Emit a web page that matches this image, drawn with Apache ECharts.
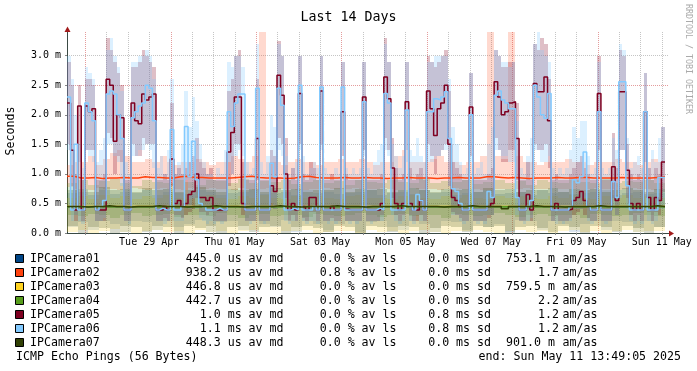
<!DOCTYPE html>
<html><head><meta charset="utf-8">
<script src="https://cdn.jsdelivr.net/npm/echarts@6/dist/echarts.min.js"></script>
<style>html,body{margin:0;padding:0;background:#fff}#c{width:697px;height:371px}</style>
</head><body><div id="c"></div>
<script>
// ---------------- data ----------------
const hosts = ['IPCamera01','IPCamera02','IPCamera03','IPCamera04','IPCamera05','IPCamera06','IPCamera07'];
const hostColors = ['#004586','#ff420e','#ffd320','#579d1c','#7e0021','#83caff','#314004'];
const legendMd = ['445.0 us av md','938.2 us av md','446.8 us av md','442.7 us av md','  1.0 ms av md','  1.1 ms av md','448.3 us av md'];
const legendLs = ['0.0 % av ls','0.8 % av ls','0.0 % av ls','0.0 % av ls','0.0 % av ls','0.0 % av ls','0.0 % av ls'];
const legendSd = ['0.0 ms sd','0.0 ms sd','0.0 ms sd','0.0 ms sd','0.8 ms sd','0.8 ms sd','0.0 ms sd'];
const legendAmVal = ['753.1 m','1.7','759.5 m','2.2','1.2','1.2','901.0 m'];
const yTickValues = [0, 0.5, 1.0, 1.5, 2.0, 2.5, 3.0];
const xTickLabels = ['Tue 29 Apr','Thu 01 May','Sat 03 May','Mon 05 May','Wed 07 May','Fri 09 May','Sun 11 May'];
const xTickDates = ['2025-04-29T12:00:00Z','2025-05-01T12:00:00Z','2025-05-03T12:00:00Z','2025-05-05T12:00:00Z','2025-05-07T12:00:00Z','2025-05-09T12:00:00Z','2025-05-11T12:00:00Z'];
const startDate = '2025-04-27T13:49:05Z';
const firstGridDate = '2025-04-28T00:00:00Z';
const spanHours = 336;

// IPCamera06 median, 2 h steps
const med6 = [2.3,0.39,1.5,0.39,0.39,2.2,2.05,1.9,0.39,0.45,
 0.55,2.35,2.4,2.35,2.0,1.6,0.39,0.39,1.95,2.05,
 2.15,2.2,2.5,2.45,1.9,0.39,0.42,0.39,0.39,1.75,
 0.39,0.39,0.45,1.8,0.95,1.55,0.9,0.5,0.45,0.39,
 0.39,0.39,0.42,0.39,0.39,2.05,1.8,2.2,2.35,2.35,
 0.39,0.39,0.39,2.45,0.39,0.39,0.39,1.18,0.95,2.45,
 2.16,0.39,0.39,0.42,0.39,2.5,0.39,0.39,0.39,0.45,
 0.39,2.47,0.39,0.39,0.39,0.39,0.39,2.47,0.39,0.39,
 0.39,0.39,0.39,2.22,0.39,0.39,0.39,0.42,0.39,2.36,
 2.2,0.39,0.39,0.39,0.39,2.08,0.45,0.39,0.65,0.55,
 0.39,2.05,2.05,2.27,2.25,2.3,2.39,1.6,0.75,0.7,
 0.5,0.39,0.39,2.0,0.39,0.39,0.39,0.39,0.7,0.6,
 2.33,2.4,2.25,2.2,2.1,2.1,0.6,0.39,0.39,0.45,
 0.55,2.5,2.3,2.0,1.94,2.36,0.39,0.39,0.39,0.39,
 0.39,0.45,0.9,0.85,0.95,1.37,0.45,0.39,0.39,2.05,
 0.39,0.39,0.39,0.87,0.6,2.56,2.56,0.8,0.39,0.39,
 0.39,0.39,2.05,0.39,0.39,0.39,0.94,0.94];
// IPCamera05 median, 2 h steps
const med5 = [2.2,1.4,0.39,2.15,0.39,2.15,2.05,2.1,0.39,0.39,
 0.39,2.6,2.5,1.55,2.0,1.95,0.39,0.39,2.2,1.9,
 1.85,2.35,2.25,2.3,2.35,0.39,0.39,0.45,0.39,1.25,
 0.5,0.55,0.45,0.5,0.65,0.7,1.0,0.6,0.6,0.55,
 0.6,0.39,0.39,0.39,0.39,1.37,1.7,2.3,2.3,0.5,
 0.39,0.39,0.39,1.6,0.39,0.39,0.39,0.8,0.7,2.67,
 2.33,1.0,0.39,0.5,0.39,2.36,0.45,0.39,0.6,0.6,
 0.39,2.4,0.39,0.39,0.45,0.39,0.39,2.05,0.4,0.39,
 0.39,0.39,0.39,2.3,0.39,0.39,0.39,0.39,0.5,2.64,
 2.27,1.1,0.5,0.39,0.5,2.22,0.5,0.39,0.39,0.55,
 0.39,2.4,2.1,1.65,2.1,2.2,2.5,1.5,0.6,0.55,
 0.45,0.39,0.39,2.13,0.39,0.39,0.39,0.39,0.45,0.5,
 2.56,2.3,2.0,2.05,2.2,2.22,1.6,0.39,0.39,0.65,
 0.39,2.53,2.39,2.39,2.64,1.9,0.39,0.5,0.39,0.39,
 0.39,0.4,0.55,0.6,0.7,0.55,0.45,0.39,0.39,2.36,
 0.39,0.39,0.39,1.12,0.55,2.39,2.39,1.06,0.5,0.39,
 0.5,0.39,2.05,0.6,0.39,0.6,0.55,1.2];
// smoke ranges, 2 h steps
const smoke6Hi = [3.0,2.6,2.0,1.5,1.1,2.8,2.7,2.6,1.2,1.4,
 1.6,3.1,3.3,3.0,2.8,2.4,1.2,1.0,2.9,2.9,
 3.0,3.0,3.1,3.0,2.6,1.1,1.3,1.0,1.4,2.6,
 1.0,1.2,1.5,2.4,1.8,2.3,1.9,1.5,1.2,1.0,
 1.0,0.9,1.1,1.0,1.4,2.9,2.8,3.0,3.0,2.8,
 1.2,1.0,1.1,3.2,1.2,1.0,1.3,2.0,1.8,3.2,
 3.0,1.3,1.0,1.1,1.2,3.0,1.3,1.0,1.1,1.2,
 1.1,3.0,1.1,1.0,0.9,1.1,1.0,2.9,1.1,1.0,
 1.1,1.0,1.1,2.9,1.1,1.0,1.2,1.4,1.5,3.2,
 2.9,1.5,1.3,1.1,1.3,2.9,1.4,1.3,1.6,1.3,
 1.2,2.9,2.9,3.0,3.0,3.0,3.0,2.6,1.8,1.5,
 1.2,1.0,1.1,2.7,1.0,1.1,1.2,1.0,1.5,1.8,
 3.1,3.0,2.9,2.9,2.8,2.9,1.9,1.1,1.0,1.3,
 1.6,3.2,3.4,3.1,3.0,2.9,1.1,1.0,1.1,1.0,
 1.1,1.4,1.8,1.6,1.9,1.9,1.3,1.0,1.1,2.9,
 1.1,1.0,1.1,1.6,1.4,3.2,3.1,1.6,1.1,1.2,
 1.3,1.1,2.7,1.1,1.4,1.2,1.6,1.8];
const smoke6Lo = [1.4,0.2,0.3,0.2,0.15,1.4,1.3,1.2,0.2,0.2,
 0.25,1.5,1.5,1.3,1.2,0.8,0.2,0.15,1.3,1.3,
 1.4,1.4,1.5,1.4,1.1,0.2,0.2,0.15,0.2,0.9,
 0.2,0.2,0.2,0.9,0.4,0.6,0.4,0.25,0.2,0.15,
 0.2,0.15,0.2,0.15,0.2,1.2,1.0,1.3,1.4,1.3,
 0.2,0.15,0.2,1.4,0.2,0.15,0.2,0.5,0.4,1.4,
 1.3,0.2,0.15,0.2,0.2,1.4,0.2,0.15,0.2,0.2,
 0.15,1.4,0.2,0.15,0.2,0.15,0.2,1.4,0.2,0.15,
 0.2,0.15,0.2,1.3,0.2,0.15,0.2,0.2,0.2,1.4,
 1.3,0.3,0.2,0.15,0.2,1.2,0.2,0.15,0.3,0.2,
 0.2,1.2,1.2,1.3,1.3,1.4,1.4,0.8,0.3,0.3,
 0.2,0.15,0.2,1.2,0.2,0.15,0.2,0.15,0.3,0.3,
 1.4,1.4,1.3,1.3,1.2,1.2,0.3,0.2,0.15,0.2,
 0.25,1.4,1.4,1.2,1.2,1.3,0.2,0.15,0.2,0.15,
 0.2,0.2,0.4,0.4,0.4,0.6,0.2,0.15,0.2,1.2,
 0.2,0.15,0.2,0.4,0.3,1.4,1.4,0.4,0.2,0.15,
 0.2,0.15,1.2,0.2,0.15,0.2,0.4,0.4];
const smoke5Hi = [2.9,2.5,1.0,2.5,0.9,2.6,2.6,2.5,0.9,0.9,
 1.0,3.3,3.1,2.9,2.7,2.5,0.9,0.9,2.8,2.8,
 2.9,3.1,3.0,2.9,2.8,0.9,0.9,1.0,0.9,2.2,
 1.0,1.1,1.0,1.1,1.2,1.3,1.6,1.2,1.1,1.0,
 1.1,0.9,0.9,0.9,0.9,2.4,2.6,3.0,3.1,1.2,
 0.9,0.9,0.9,2.6,0.9,0.9,0.9,1.4,1.3,3.25,
 3.0,1.6,0.9,1.1,0.9,3.0,1.0,0.9,1.2,1.1,
 0.9,3.0,0.9,0.9,1.0,0.9,0.9,2.9,1.0,0.9,
 0.9,0.9,0.9,2.9,0.9,0.9,0.9,0.9,1.0,3.3,
 2.9,1.6,1.1,0.9,1.0,2.9,1.1,0.9,1.0,1.1,
 0.9,3.0,2.9,2.8,2.9,3.0,3.1,2.4,1.2,1.1,
 1.0,0.9,0.9,2.7,0.9,0.9,0.9,0.9,1.0,1.1,
 3.1,3.0,2.8,2.8,2.9,2.9,2.2,0.9,0.9,1.2,
 0.9,3.2,3.1,3.3,3.2,2.6,0.9,1.0,0.9,0.9,
 0.9,1.0,1.1,1.2,1.3,1.1,1.0,0.9,0.9,3.0,
 0.9,0.9,0.9,1.7,1.1,3.1,3.0,1.5,1.0,0.9,
 1.0,0.9,2.7,1.1,0.9,1.1,1.0,1.8];
const smoke5Lo = [1.5,0.8,0.2,1.2,0.2,1.4,1.4,1.4,0.2,0.2,
 0.2,1.7,1.6,1.0,1.3,1.2,0.2,0.2,1.5,1.3,
 1.3,1.6,1.5,1.5,1.5,0.2,0.2,0.25,0.2,0.8,
 0.3,0.3,0.25,0.3,0.35,0.4,0.6,0.35,0.35,0.3,
 0.35,0.2,0.2,0.2,0.2,0.8,1.0,1.5,1.5,0.3,
 0.2,0.2,0.2,0.9,0.2,0.2,0.2,0.45,0.4,1.6,
 1.5,0.6,0.2,0.3,0.2,1.5,0.25,0.2,0.35,0.35,
 0.2,1.5,0.2,0.2,0.25,0.2,0.2,1.3,0.2,0.2,
 0.2,0.2,0.2,1.4,0.2,0.2,0.2,0.2,0.3,1.6,
 1.4,0.6,0.3,0.2,0.3,1.4,0.3,0.2,0.2,0.3,
 0.2,1.5,1.3,1.0,1.3,1.4,1.5,0.8,0.35,0.3,
 0.25,0.2,0.2,1.3,0.2,0.2,0.2,0.2,0.25,0.3,
 1.6,1.4,1.2,1.2,1.4,1.4,0.9,0.2,0.2,0.4,
 0.2,1.5,1.4,1.4,1.5,1.1,0.2,0.3,0.2,0.2,
 0.2,0.25,0.3,0.35,0.4,0.3,0.25,0.2,0.2,1.4,
 0.2,0.2,0.2,0.6,0.3,1.4,1.4,0.6,0.3,0.2,
 0.3,0.2,1.2,0.35,0.2,0.35,0.3,0.7];
// IPCamera02, 4 h steps
const med2 = [0.96,0.93,0.93,0.94,0.92,0.93,0.93,0.94,0.93,0.93,
 0.95,0.94,0.94,0.93,0.93,0.95,0.96,0.94,0.94,0.93,
 0.93,0.93,0.93,0.94,0.95,0.96,0.94,0.93,0.93,0.93,
 0.92,0.93,0.95,0.96,0.94,0.93,0.93,0.93,0.94,0.93,
 0.93,0.94,0.93,0.93,0.92,0.93,0.93,0.94,0.93,0.93,
 0.93,0.92,0.93,0.93,0.94,0.93,0.93,0.93,0.95,0.95,
 0.94,0.93,0.94,0.93,0.92,0.93,0.93,0.93,0.94,0.93,
 0.93,0.94,0.94,0.93,0.93,0.93,0.93,0.94,0.93,0.93,
 0.93,0.93,0.94,0.95];
const smoke2Hi = [1.15,1.2,1.2,1.3,1.15,1.25,1.35,1.4,1.3,1.2,
 1.2,1.25,1.2,1.3,1.2,1.15,1.2,1.2,1.25,1.2,
 1.15,1.2,1.2,1.3,1.25,1.2,1.3,3.4,1.2,1.2,
 1.15,1.2,1.25,1.2,1.2,1.15,1.2,1.2,1.25,1.2,
 1.2,1.25,1.2,1.15,1.2,1.2,1.3,1.4,1.2,1.2,
 1.2,1.25,1.3,1.2,1.2,1.15,1.2,1.2,1.3,3.4,
 1.3,1.25,3.4,1.3,1.2,1.2,1.15,1.2,1.2,1.2,
 1.25,1.2,1.2,1.15,1.2,1.2,1.2,1.25,1.2,1.2,
 1.15,1.2,1.25,1.2];
const smoke2Lo = [0.78,0.75,0.74,0.72,0.76,0.75,0.74,0.72,0.75,0.76,
 0.74,0.73,0.75,0.76,0.75,0.74,0.72,0.76,0.75,0.74,
 0.76,0.75,0.74,0.73,0.76,0.75,0.72,0.75,0.76,0.75,
 0.74,0.75,0.73,0.72,0.74,0.75,0.76,0.75,0.74,0.75,
 0.76,0.74,0.74,0.75,0.76,0.75,0.73,0.72,0.76,0.75,
 0.75,0.74,0.73,0.75,0.76,0.75,0.74,0.75,0.72,0.72,
 0.74,0.75,0.74,0.75,0.76,0.75,0.74,0.75,0.76,0.75,
 0.74,0.75,0.73,0.75,0.76,0.75,0.74,0.73,0.75,0.76,
 0.75,0.74,0.73,0.74];
// IPCamera07, 4 h steps
const med7 = [0.45,0.45,0.44,0.45,0.45,0.46,0.45,0.45,0.44,0.45,
 0.45,0.45,0.46,0.45,0.45,0.45,0.44,0.45,0.45,0.45,
 0.46,0.45,0.45,0.45,0.44,0.45,0.45,0.45,0.45,0.46,
 0.45,0.45,0.44,0.45,0.45,0.45,0.45,0.46,0.45,0.45,
 0.45,0.44,0.45,0.45,0.45,0.45,0.46,0.45,0.45,0.45,
 0.45,0.45,0.44,0.45,0.45,0.45,0.46,0.45,0.45,0.45,
 0.45,0.41,0.45,0.45,0.45,0.46,0.45,0.45,0.45,0.44,
 0.45,0.45,0.45,0.45,0.46,0.45,0.45,0.45,0.45,0.45,
 0.45,0.45,0.46,0.45];
// IPCamera01/03/04, 12 h steps
const med1 = [0.445,0.445,0.445,0.445,0.445,0.445,0.445,0.445,0.445,0.445,0.445,0.445,0.445,0.445,
 0.445,0.445,0.445,0.445,0.445,0.445,0.445,0.445,0.445,0.445,0.445,0.445,0.445,0.445];
const med3 = [0.447,0.447,0.447,0.447,0.447,0.447,0.447,0.447,0.447,0.447,0.447,0.447,0.447,0.447,
 0.447,0.447,0.447,0.447,0.447,0.447,0.447,0.447,0.447,0.447,0.447,0.447,0.447,0.447];
const med4 = [0.443,0.443,0.443,0.443,0.443,0.443,0.443,0.443,0.443,0.443,0.443,0.443,0.443,0.443,
 0.443,0.443,0.443,0.443,0.443,0.443,0.443,0.443,0.443,0.443,0.443,0.443,0.443,0.443];
// low hosts smoke, 6 h steps
const smoke1Lo = [0.1,0.18,0.05,0.2,0.15,0.02,0.2,0.18,0.05,0.2,0.1,0.15,0.22,0.02,0.18,0.2,0.05,0.2,0.15,0.1,
 0.22,0.02,0.2,0.15,0.05,0.15,0.2,0.02,0.18,0.2,0.1,0.05,0.2,0.15,0.02,0.2,0.18,0.05,0.2,0.1,
 0.15,0.02,0.22,0.2,0.05,0.2,0.15,0.02,0.15,0.2,0.05,0.2,0.18,0.02,0.2,0.1];
const smoke1Hi = [0.68,0.7,0.65,0.72,0.66,0.7,0.68,0.72,0.65,0.7,0.68,0.66,0.72,0.7,0.65,0.68,0.7,0.72,0.66,0.68,
 0.7,0.65,0.72,0.68,0.7,0.66,0.68,0.7,0.72,0.65,0.68,0.7,0.66,0.72,0.68,0.7,0.65,0.68,0.7,0.72,
 0.66,0.68,0.7,0.65,0.72,0.68,0.7,0.66,0.68,0.7,0.72,0.65,0.68,0.7,0.66,0.68];
const smoke3Lo = [0.02,0.05,0.0,0.03,0.06,0.02,0.0,0.04,0.05,0.02,0.03,0.0,0.05,0.02,0.04,0.0,0.03,0.05,0.02,0.0,
 0.04,0.03,0.05,0.0,0.02,0.04,0.03,0.0,0.05,0.02,0.03,0.0,0.04,0.05,0.02,0.0,0.03,0.04,0.05,0.02,
 0.0,0.03,0.05,0.02,0.04,0.0,0.03,0.05,0.02,0.04,0.0,0.03,0.05,0.02,0.04,0.03];
const smoke3Hi = [0.6,0.62,0.58,0.65,0.6,0.63,0.58,0.62,0.6,0.65,0.6,0.58,0.62,0.64,0.6,0.58,0.62,0.6,0.65,0.6,
 0.58,0.62,0.6,0.63,0.6,0.58,0.62,0.65,0.6,0.6,0.58,0.62,0.64,0.6,0.58,0.62,0.6,0.65,0.6,0.58,
 0.62,0.6,0.63,0.6,0.58,0.62,0.6,0.65,0.6,0.58,0.62,0.6,0.64,0.6,0.62,0.6];
const smoke4Lo = [0.3,0.28,0.32,0.3,0.25,0.3,0.33,0.28,0.3,0.32,0.27,0.3,0.3,0.28,0.33,0.3,0.26,0.3,0.32,0.28,
 0.3,0.3,0.27,0.32,0.3,0.28,0.3,0.33,0.3,0.27,0.3,0.32,0.28,0.3,0.3,0.26,0.32,0.3,0.28,0.3,
 0.33,0.3,0.27,0.3,0.32,0.28,0.3,0.3,0.26,0.32,0.3,0.28,0.3,0.33,0.3,0.28];
const smoke4Hi = [0.85,0.9,0.82,0.88,0.92,0.85,0.8,0.9,0.87,0.84,0.9,0.86,0.82,0.9,0.88,0.85,0.92,0.84,0.88,0.86,
 0.9,0.83,0.87,0.9,0.85,0.88,0.82,0.9,0.86,0.84,0.9,0.87,0.85,0.92,0.84,0.88,0.86,0.9,0.83,0.87,
 0.9,0.85,0.88,0.82,0.9,0.86,0.84,0.9,0.87,0.85,0.92,0.84,0.88,0.86,0.9,0.85];
const smoke7Lo = [0.12,0.0,0.1,0.08,0.0,0.12,0.1,0.02,0.12,0.1,0.0,0.12,0.08,0.12,0.0,0.1,0.12,0.02,0.1,0.12,
 0.0,0.1,0.12,0.08,0.02,0.12,0.1,0.0,0.12,0.1,0.02,0.12,0.1,0.0,0.08,0.12,0.1,0.02,0.12,0.1,
 0.12,0.0,0.1,0.12,0.08,0.02,0.12,0.1,0.0,0.12,0.1,0.02,0.12,0.08,0.0,0.1];
const smoke7Hi = [0.72,0.75,0.7,0.78,0.72,0.74,0.7,0.76,0.72,0.75,0.7,0.73,0.77,0.72,0.7,0.75,0.72,0.74,0.7,0.76,
 0.72,0.75,0.7,0.73,0.72,0.76,0.7,0.74,0.72,0.75,0.7,0.72,0.76,0.73,0.7,0.75,0.72,0.74,0.7,0.76,
 0.72,0.75,0.7,0.73,0.72,0.76,0.7,0.74,0.72,0.75,0.7,0.72,0.76,0.73,0.7,0.75];

// ---------------- layout / style ----------------
const FONT = 'DejaVu Sans Mono';
const LEG_FONT = '11.6px "' + FONT + '"';
const Y_MAX = 3.4;
const X_PAD = 2.25;  // axis extends a little beyond the last sample
const GRID_MINOR = 'rgba(150,150,150,0.55)';
const GRID_MAJOR = 'rgba(210,90,90,0.6)';
const AXIS_COLOR = '#3a4a44';
const ARROW_COLOR = '#a11a1a';
const smokeAlpha = [0.15, 0.2, 0.22, 0.22, 0.25, 0.28, 0.2];

const H = ms => (new Date(ms).getTime() - new Date(startDate).getTime()) / 3600000;
const labelHours = xTickDates.map(H);
const firstGridH = H(firstGridDate);
const gridLines = [];
for (let k = 0; firstGridH + 12 * k < spanHours + X_PAD; k++) gridLines.push([firstGridH + 12 * k, k % 4 === 0 ? 1 : 0]);
const minorTickHours = gridLines.map(g => g[0]);

function hexA(hex, a) {
  const n = parseInt(hex.slice(1), 16);
  return 'rgba(' + (n >> 16) + ',' + ((n >> 8) & 255) + ',' + (n & 255) + ',' + a + ')';
}
function bandSeries(lo, hi, stepH, color, z) {
  return {
    type: 'custom', silent: true, z: z, clip: true,
    data: lo.map((l, i) => [i * stepH, (i + 1) * stepH, l, hi[i]]),
    encode: {x: [0, 1], y: [2, 3]},
    renderItem: (params, api) => {
      const a = api.coord([api.value(0), api.value(2)]);
      const b = api.coord([api.value(1), api.value(3)]);
      const x0 = Math.round(a[0]), x1 = Math.round(b[0]);
      const yb = Math.round(a[1]), yt = Math.round(b[1]);
      return {type: 'rect', shape: {x: x0, y: yt, width: x1 - x0, height: yb - yt}, style: {fill: color}};
    }
  };
}
function medSeries(vals, stepH, color, z, w) {
  const d = vals.map((v, i) => [i * stepH, v]);
  d.push([vals.length * stepH, vals[vals.length - 1]]);
  return {type: 'line', step: 'end', symbol: 'none', silent: true, z: z, data: d,
    lineStyle: {color: color, width: w}, emphasis: {disabled: true}, animation: false};
}

const smokeDefs = [
  [smoke1Lo, smoke1Hi, 6], [smoke2Lo, smoke2Hi, 4], [smoke3Lo, smoke3Hi, 6], [smoke4Lo, smoke4Hi, 6],
  [smoke5Lo, smoke5Hi, 2], [smoke6Lo, smoke6Hi, 2], [smoke7Lo, smoke7Hi, 6]
];
const medDefs = [[med1, 12], [med2, 4], [med3, 12], [med4, 12], [med5, 2], [med6, 2], [med7, 4]];

const series = [];
series.push({
  type: 'custom', silent: true, z: 1, data: gridLines, encode: {x: 0},
  renderItem: (params, api) => {
    const t = api.coord([api.value(0), Y_MAX]);
    const b = api.coord([api.value(0), 0]);
    const x = Math.round(t[0]) + 0.5;
    return {type: 'line', shape: {x1: x, y1: t[1], x2: x, y2: b[1]},
      style: {stroke: api.value(1) ? GRID_MAJOR : GRID_MINOR, lineWidth: 1, lineDash: [1, 1]}};
  }
});
smokeDefs.forEach((s, i) => series.push(bandSeries(s[0], s[1], s[2], hexA(hostColors[i], smokeAlpha[i]), 2)));
medDefs.forEach((m, i) => series.push(medSeries(m[0], m[1], hostColors[i], 3, 1.5)));

// legend graphics
const graphic = [];
const LEG_Y0 = 259, LEG_DY = 14;
hosts.forEach((h, i) => {
  const y = LEG_Y0 + i * LEG_DY;
  graphic.push({type: 'rect', shape: {x: 15.5, y: y - 4.5, width: 8, height: 8},
    style: {fill: hostColors[i], stroke: '#000', lineWidth: 1}});
  const txt = (t, x, align) => graphic.push({type: 'text', x: x, y: y,
    style: {text: t, font: LEG_FONT, fill: '#000', align: align, verticalAlign: 'middle'}});
  txt(h, 30, 'left');
  txt(legendMd[i], 283.5, 'right');
  txt(legendLs[i], 396.5, 'right');
  txt(legendSd[i], 491, 'right');
  if (legendAmVal[i].indexOf(' m') > 0) txt(legendAmVal[i], 506, 'left');
  else txt(legendAmVal[i], 559, 'right');
  txt('am/as', 562.5, 'left');
});
graphic.push({type: 'text', x: 16, y: 357, style: {text: 'ICMP Echo Pings (56 Bytes)', font: LEG_FONT, fill: '#000', verticalAlign: 'middle'}});
graphic.push({type: 'text', x: 681, y: 357, style: {text: 'end: Sun May 11 13:49:05 2025', font: LEG_FONT, fill: '#000', align: 'right', verticalAlign: 'middle'}});
graphic.push({type: 'text', x: 11, y: 131, rotation: Math.PI / 2, style: {text: 'Seconds', font: LEG_FONT, fill: '#000', align: 'center', verticalAlign: 'middle'}});
graphic.push({type: 'text', x: 688, y: 59, rotation: -Math.PI / 2, style: {text: 'RRDTOOL / TOBI OETIKER', font: '8.3px "' + FONT + '"', fill: '#aaa', align: 'center', verticalAlign: 'middle'}});

const option = {
  animation: false,
  backgroundColor: '#fff',
  title: {text: 'Last 14 Days', left: 'center', top: 6,
    textStyle: {fontFamily: FONT, fontSize: 13.3, fontWeight: 'normal', color: '#000'}},
  grid: {left: 67, top: 32, width: 602, height: 201, containLabel: false},
  xAxis: {
    type: 'value', min: 0, max: spanHours + X_PAD,
    axisLine: {show: true, onZero: false, lineStyle: {color: AXIS_COLOR, width: 1}},
    axisTick: {show: true, customValues: minorTickHours, length: 2, lineStyle: {color: '#888'}},
    axisLabel: {customValues: labelHours, margin: 4, fontFamily: FONT, fontSize: 10, color: '#000',
      formatter: v => { const k = labelHours.findIndex(h => Math.abs(h - v) < 1e-6); return k >= 0 ? xTickLabels[k] : ''; }},
    splitLine: {show: false}
  },
  yAxis: {
    type: 'value', min: 0, max: Y_MAX, interval: 0.1,
    axisLine: {show: true, onZero: false, lineStyle: {color: AXIS_COLOR, width: 1}},
    axisTick: {show: true, customValues: yTickValues, length: 2, lineStyle: {color: '#888'}},
    axisLabel: {customValues: yTickValues, margin: 6, fontFamily: FONT, fontSize: 10, color: '#000',
      formatter: v => v.toFixed(1) + ' m'},
    splitLine: {show: true, lineStyle: {color: [GRID_MAJOR, GRID_MINOR, GRID_MINOR, GRID_MINOR, GRID_MINOR], type: [1, 1], width: 1}}
  },
  series: series,
  graphic: graphic
};
const chart = echarts.init(document.getElementById('c'), null, {renderer: 'canvas'});
chart.setOption(option);

// axis arrow heads at the axis ends (located through the axis scales)
const xEnd = chart.convertToPixel({gridIndex: 0}, [spanHours + X_PAD, 0]);
const yEnd = chart.convertToPixel({gridIndex: 0}, [0, Y_MAX]);
const xe = Math.round(xEnd[0]), ye = Math.round(xEnd[1]) + 0.5;
const yx = Math.round(yEnd[0]) + 0.5, yt = Math.round(yEnd[1]);
graphic.push({type: 'polygon', z: 100, shape: {points: [[xe, ye - 3], [xe + 5, ye], [xe, ye + 3]]}, style: {fill: ARROW_COLOR}});
graphic.push({type: 'polygon', z: 100, shape: {points: [[yx - 3, yt], [yx, yt - 5.5], [yx + 3, yt]]}, style: {fill: ARROW_COLOR}});
chart.setOption({graphic: graphic});
</script></body></html>
